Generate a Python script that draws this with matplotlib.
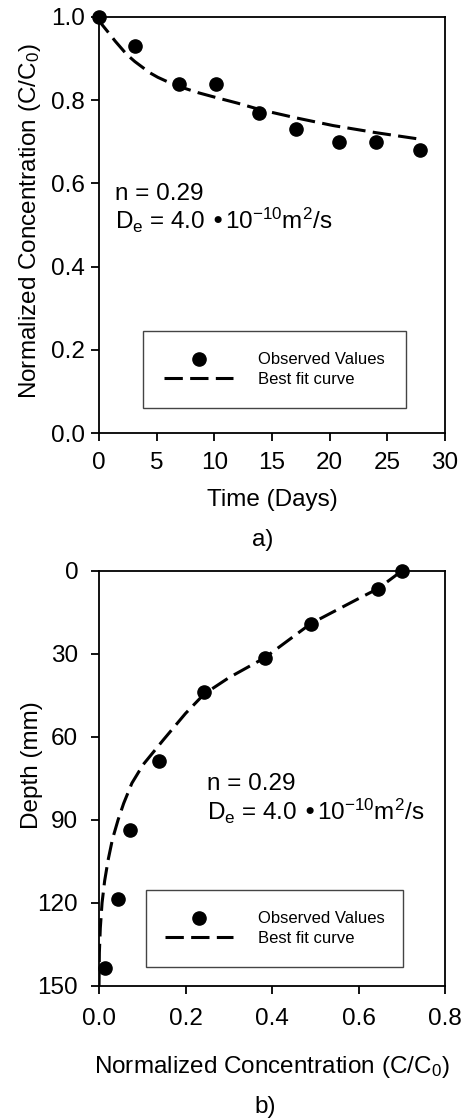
import matplotlib
matplotlib.use('Agg')
import matplotlib.pyplot as plt
from matplotlib.patches import Rectangle
from matplotlib.ticker import FormatStrFormatter
import numpy as np

plt.rcParams['font.family'] = ['Liberation Sans', 'DejaVu Sans']
plt.rcParams['mathtext.default'] = 'regular'

# a) concentration in the reservoir over time
time_obs = [0, 3.1, 6.9, 10.1, 13.9, 17.1, 20.8, 24.0, 27.8]
conc_obs = [1.0, 0.93, 0.84, 0.84, 0.77, 0.73, 0.70, 0.70, 0.68]
time_fit = [0, 0.25, 0.95, 1.4, 2.4, 3.1, 4.4, 5.1, 6.6, 8.6, 10.2, 12, 14, 17, 20.3, 24, 27.9]
conc_fit = [1.0, 0.982, 0.958, 0.942, 0.910, 0.893, 0.866, 0.855, 0.836, 0.818, 0.806,
            0.793, 0.777, 0.758, 0.739, 0.722, 0.706]

# b) concentration profile with depth
depth_obs = [0, 6.4, 19, 31.3, 43.7, 68.7, 93.5, 118.6, 143.5]
prof_obs = [0.70, 0.645, 0.49, 0.383, 0.243, 0.139, 0.072, 0.044, 0.014]
depth_fit = [0, 6.4, 10, 19, 31.4, 38.6, 44.5, 51.5, 61, 70, 76.7, 84, 90, 97,
             104.5, 112, 120, 129, 138, 150]
prof_fit = [0.70, 0.645, 0.60, 0.49, 0.383, 0.30, 0.243, 0.20, 0.149, 0.102, 0.076,
            0.057, 0.044, 0.031, 0.021, 0.013, 0.007, 0.003, 0.0008, 0.0]

fit_text_n = 'n = 0.29'
fit_text_d = 'D$_e$ = 4.0 \u202210$^{-10}$m$^2$/s'

fs = 17.5
dash = (6, 2.4)

fig = plt.figure(figsize=(4.61, 11.18), dpi=100)
ax1 = fig.add_axes([0.2148, 0.6127, 0.7505, 0.3721])
ax2 = fig.add_axes([0.2148, 0.1181, 0.7505, 0.3712])


def style_axes(ax, xpad, ypad):
    for s in ax.spines.values():
        s.set_linewidth(1.3)
    ax.tick_params(direction='out', length=6, width=1.3, labelsize=fs)
    ax.tick_params(axis='x', pad=xpad)
    ax.tick_params(axis='y', pad=ypad)


def boxed_legend(ax, box):
    # square grey frame drawn separately so its size is fixed
    x0, y0, w, h = box
    ax.add_patch(Rectangle((x0, y0), w, h, transform=ax.transAxes, fill=False,
                           edgecolor='#444444', lw=1.0, zorder=5))
    hs, ls = ax.get_legend_handles_labels()
    ax.legend(hs[::-1], ls[::-1], loc='center',
              bbox_to_anchor=(x0 + w / 2, y0 + h / 2), frameon=False,
              fontsize=12, handlelength=4.1, handletextpad=1.5,
              labelspacing=0.25, numpoints=1)


# top panel
ax1.plot(time_fit, conc_fit, color='black', lw=2.2, dashes=dash, label='Best fit curve', zorder=3)
ax1.plot(time_obs, conc_obs, 'o', color='black', ms=9.5, clip_on=False,
         label='Observed Values', zorder=4)
ax1.set_xlim(0, 30)
ax1.set_ylim(0, 1.0)
ax1.set_xticks(np.arange(0, 31, 5))
ax1.set_yticks(np.arange(0, 1.01, 0.2))
ax1.yaxis.set_major_formatter(FormatStrFormatter('%.1f'))
style_axes(ax1, 8, 4)
ax1.set_xlabel('Time (Days)', fontsize=fs)
ax1.set_ylabel('Normalized Concentration (C/C$_0$)', fontsize=fs)
ax1.xaxis.set_label_coords(0.5, -0.135)
ax1.yaxis.set_label_coords(-0.162, 0.51)
ax1.text(0.046, 0.56, fit_text_n, transform=ax1.transAxes, fontsize=fs, va='baseline')
ax1.text(0.046, 0.49, fit_text_d, transform=ax1.transAxes, fontsize=fs, va='baseline')
boxed_legend(ax1, (0.127, 0.060, 0.76, 0.185))

# bottom panel
ax2.plot(prof_fit, depth_fit, color='black', lw=2.2, dashes=dash, label='Best fit curve', zorder=3)
ax2.plot(prof_obs, depth_obs, 'o', color='black', ms=9.5, clip_on=False,
         label='Observed Values', zorder=4)
ax2.set_xlim(0, 0.8)
ax2.set_ylim(150, 0)
ax2.set_xticks(np.arange(0, 0.81, 0.2))
ax2.set_yticks(np.arange(0, 151, 30))
ax2.xaxis.set_major_formatter(FormatStrFormatter('%.1f'))
style_axes(ax2, 10, 9)
ax2.set_xlabel('Normalized Concentration (C/C$_0$)', fontsize=fs)
ax2.set_ylabel('Depth (mm)', fontsize=fs)
ax2.xaxis.set_label_coords(0.5, -0.164)
ax2.yaxis.set_label_coords(-0.162, 0.533)
ax2.text(0.312, 0.472, fit_text_n, transform=ax2.transAxes, fontsize=fs, va='baseline')
ax2.text(0.312, 0.400, fit_text_d, transform=ax2.transAxes, fontsize=fs, va='baseline')
boxed_legend(ax2, (0.136, 0.046, 0.743, 0.185))

fig.text(263 / 461, 1 - 540 / 1118, 'a)', fontsize=fs, ha='center', va='center')
fig.text(265 / 461, 1 - 1107 / 1118, 'b)', fontsize=fs, ha='center', va='center')

fig.savefig('out.png', dpi=100)
plt.close()
